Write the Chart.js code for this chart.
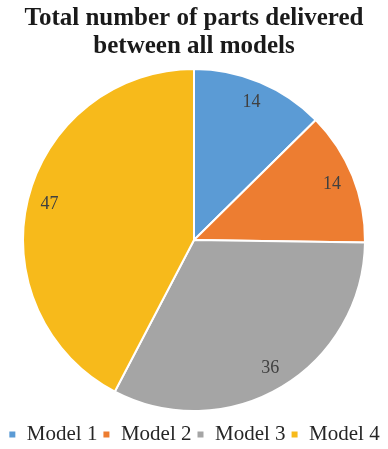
<!DOCTYPE html>
<html lang="en">
<head>
    <meta charset="UTF-8">
    <title>Total number of parts delivered</title>
    <script src="https://cdn.jsdelivr.net/npm/chart.js"></script>
    <style>
        html, body { margin: 0; padding: 0; background: white; }
        #wrap { width: 388px; height: 449px; }
    </style>
</head>
<body>
    <div id="wrap"><canvas id="chart"></canvas></div>

    <script>
        const models = ['Model 1', 'Model 2', 'Model 3', 'Model 4'];
        const parts = [14, 14, 36, 47];
        const colors = ['#5B9BD5', '#ED7D31', '#A5A5A5', '#F7BA1B'];

        // labels drawn inside the slices, near the rim
        const sliceLabels = {
            id: 'sliceLabels',
            afterDatasetsDraw(chart) {
                const ctx = chart.ctx;
                const meta = chart.getDatasetMeta(0);
                ctx.save();
                ctx.font = '18px "Liberation Serif"';
                ctx.fillStyle = '#404040';
                ctx.textAlign = 'center';
                ctx.textBaseline = 'middle';
                meta.data.forEach((arc, i) => {
                    const p = arc.getProps(['x', 'y', 'startAngle', 'endAngle', 'outerRadius']);
                    const mid = (p.startAngle + p.endAngle) / 2;
                    const r = p.outerRadius * 0.87;
                    ctx.fillText(parts[i], p.x + Math.cos(mid) * r, p.y + Math.sin(mid) * r);
                });
                ctx.restore();
            }
        };

        new Chart(document.getElementById('chart'), {
            type: 'pie',
            data: {
                labels: models,
                datasets: [{
                    data: parts,
                    backgroundColor: colors,
                    borderColor: '#ffffff',
                    borderWidth: 2
                }]
            },
            options: {
                responsive: true,
                maintainAspectRatio: false,
                animation: false,
                radius: 171,
                layout: { padding: { top: 0, bottom: -6, left: 0, right: 0 } },
                plugins: {
                    title: {
                        display: true,
                        text: ['Total number of parts delivered', 'between all models'],
                        color: '#1a1a1a',
                        font: { family: '"Liberation Serif"', size: 25, weight: 'bold', lineHeight: 1.12 },
                        padding: { top: 5, bottom: 0 }
                    },
                    legend: {
                        position: 'bottom',
                        labels: {
                            color: '#262626',
                            font: { family: '"Liberation Serif"', size: 21 },
                            usePointStyle: true,
                            pointStyle: 'rect',
                            boxWidth: 8,
                            boxHeight: 8,
                            padding: 5
                        }
                    },
                    tooltip: { enabled: false }
                }
            },
            plugins: [sliceLabels]
        });
    </script>
</body>
</html>
